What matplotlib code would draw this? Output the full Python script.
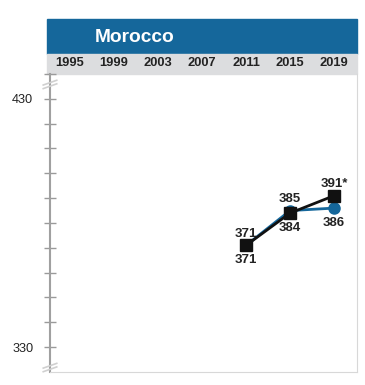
import matplotlib.pyplot as plt
from matplotlib.patches import Rectangle
from matplotlib.lines import Line2D

# dados
anos = ['1995', '1999', '2003', '2007', '2011', '2015', '2019']
anos_medidos = [2011, 2015, 2019]
serie_preta = [371, 384, 391]
serie_azul = [371, 385, 386]
rotulos_preta = ['371', '384', '391*']
rotulos_azul = ['371', '385', '386']

azul = '#15679b'
cinza_faixa = '#dcdddf'
texto = '#232323'

fig = plt.figure(figsize=(3.65, 3.85), dpi=100)

# faixa azul do titulo e faixa cinza dos anos
fig.patches.append(Rectangle((47 / 365, 1 - 54 / 385), 310 / 365, 35 / 385,
                             transform=fig.transFigure, color=azul, zorder=-2))
fig.patches.append(Rectangle((47 / 365, 1 - 74 / 385), 310 / 365, 20 / 385,
                             transform=fig.transFigure, color=cinza_faixa, zorder=-2))
fig.text(95 / 365, 1 - 37 / 385, 'Morocco', color='white', fontsize=13.8,
         fontweight='bold', ha='left', va='center', family='Liberation Sans')

ax = fig.add_axes([50 / 365, 1 - 372 / 385, 307 / 365, 298 / 385])
ax.patch.set_alpha(0)

x = [anos.index(str(a)) for a in anos_medidos]
ax.plot(x, serie_azul, color=azul, lw=2, marker='o', ms=8, zorder=3)
ax.plot(x, serie_preta, color='#111111', lw=2, marker='s', ms=8.5, zorder=4)

for xi, p, a, rp, ra in zip(x, serie_preta, serie_azul, rotulos_preta, rotulos_azul):
    if p >= a:
        cima, baixo = rp, ra
    else:
        cima, baixo = ra, rp
    ax.annotate(cima, (xi, max(p, a)), xytext=(0, 8.5), textcoords='offset points',
                ha='center', va='center', fontsize=9.5, fontweight='bold',
                color=texto, family='Liberation Sans')
    ax.annotate(baixo, (xi, min(p, a)), xytext=(0, -10.5), textcoords='offset points',
                ha='center', va='center', fontsize=9.5, fontweight='bold',
                color=texto, family='Liberation Sans')

ax.set_xlim(-0.455, 6.52)
ax.set_ylim(320, 440)

# eixo x com os anos em cima
ax.xaxis.tick_top()
ax.set_xticks(range(len(anos)))
ax.set_xticklabels(anos, fontsize=9.3, fontweight='bold', color=texto,
                   family='Liberation Sans')
ax.tick_params(axis='x', top=True, labeltop=True, length=0, pad=3.5)

# eixo y
ax.set_yticks(range(330, 441, 10))
ax.set_yticklabels(['330'] + [''] * 9 + ['430', ''], fontsize=9.2, color=texto,
                   family='Liberation Sans')
ax.tick_params(axis='y', direction='inout', length=8, width=1, color='#9a9a9a', pad=8)

ax.spines['top'].set_visible(False)
ax.spines['left'].set_color('#a0a0a0')
ax.spines['left'].set_linewidth(1.5)
ax.spines['right'].set_color('#d8d8d8')
ax.spines['bottom'].set_color('#d8d8d8')

# marcas de quebra do eixo
for yb in [0.965, 0.015]:
    for d in [-0.006, 0.006]:
        ax.add_line(Line2D([-0.022, 0.022], [yb + d - 0.008, yb + d + 0.008],
                           transform=ax.transAxes, color='#d0d0d0', lw=1.2,
                           clip_on=False, zorder=5))

fig.savefig('out.png', dpi=100)
